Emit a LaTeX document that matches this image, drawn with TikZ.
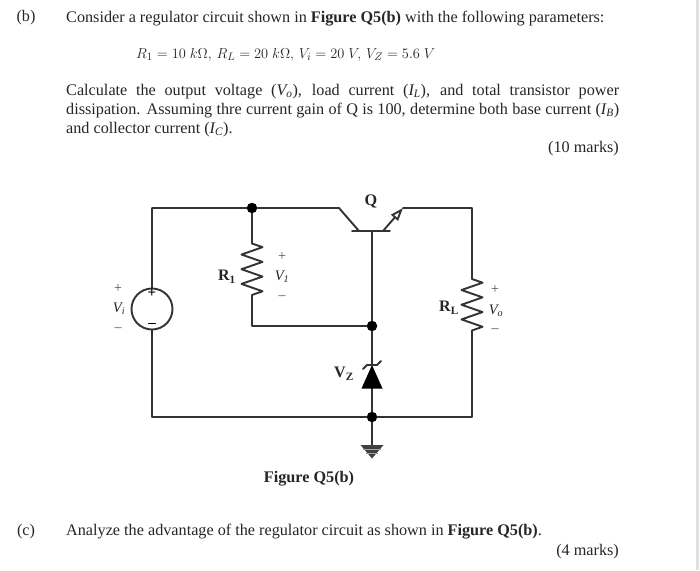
\documentclass[tikz,border=0pt]{standalone}
\usepackage{fontspec}
\setmainfont{Liberation Serif}
\usetikzlibrary{arrows.meta,decorations.pathmorphing}
\tikzset{
  wire/.style={line width=1.9pt, black!80, line cap=round, line join=round},
  res/.style={wire, decorate, decoration={zigzag, segment length=14.7pt, amplitude=10.5pt}},
  jn/.style={circle, fill=black, inner sep=0pt, minimum size=10.5pt},
  txt/.style={inner sep=0pt, text=black!85, font=\fontsize{16.2}{19}\selectfont},
  lab/.style={inner sep=0pt, text=black!85, font=\fontsize{14.5}{16}\selectfont},
  sign/.style={inner sep=0pt, text=black!70, font=\fontsize{14}{16}\selectfont}
}
\begin{document}
\begin{tikzpicture}[x=1pt, y=-1pt]
        \useasboundingbox (0,0) rectangle (700,570);
        \fill[white] (0,0) rectangle (700,570);
        \fill[black!12] (696,0) rectangle (699,570);
        % question text
        \node[txt, anchor=base] (partb) at (26,21) {(b)};
        \node[txt, anchor=base west] (intro) at (66,22) {Consider a regulator circuit shown in \textbf{Figure Q5(b)} with the following parameters:};
        \node[txt, anchor=base west, font=\fontsize{15.5}{19}\selectfont] (params) at (136,58) {$R_1 = 10\ k\Omega,\,R_L = 20\ k\Omega,\,V_i = 20\ V,\,V_Z = 5.6\ V$};
        \node[txt, anchor=base west, text width=553pt, align=justify] (para) at (66,95) {Calculate the output voltage (\textit{V\textsubscript{o}}), load current (\textit{I\textsubscript{L}}), and total transistor power\linebreak dissipation. Assuming thre current gain of Q is 100, determine both base current (\textit{I\textsubscript{B}})\linebreak and collector current (\textit{I\textsubscript{C}}).};
        \node[txt, anchor=base east] (marksb) at (619,152) {(10 marks)};
        \node[txt, anchor=base] (partc) at (26,535) {(c)};
        \node[txt, anchor=base west] (analyze) at (66,535) {Analyze the advantage of the regulator circuit as shown in \textbf{Figure Q5(b)}.};
        \node[txt, anchor=base east] (marksc) at (619,555) {(4 marks)};
        \node[txt, font=\fontsize{16.2}{19}\selectfont\bfseries] (caption) at (309,479) {Figure Q5(b)};
        % junctions and corners
        \node[jn] (top) at (252,208) {};
        \node[jn] (mid) at (372,326) {};
        \node[jn] (bot) at (372,417) {};
        \node[draw, wire, circle, inner sep=0pt, minimum size=41pt] (vi) at (152,309) {};
        \coordinate (tl) at (152,208);
        \coordinate (bl) at (152,417);
        \coordinate (br) at (472,417);
        \coordinate (tr) at (472,208);
        \coordinate (r1a) at (252,243.5);
        \coordinate (r1b) at (252,302);
        \coordinate (r1c) at (252,326);
        \coordinate (rla) at (472,279);
        \coordinate (rlb) at (472,337.5);
        \coordinate (col) at (339,208);
        \coordinate (colb) at (359,231);
        \coordinate (base) at (372,231);
        \coordinate (emb) at (383,231);
        \coordinate (em) at (403,208);
        \coordinate (zk) at (372,365);
        \coordinate (za) at (372,388);
        \coordinate (gnd) at (372,445);
        % wires
        \draw[wire] (vi.north) -- (tl) -- (top) -- (col) -- (colb);
        \draw[wire] (vi.south) -- (bl) -- (bot) -- (br) -- (rlb);
        \draw[wire] (top) -- (r1a);
        \draw[res] (r1a) -- (r1b);
        \draw[wire] (r1b) -- (r1c) -- (mid);
        \draw[wire] (em) -- (tr) -- (rla);
        \draw[res] (rla) -- (rlb);
        \draw[wire] (base) -- (mid) -- (zk);
        \draw[wire] (za) -- (bot) -- (gnd);
        % transistor
        \draw[wire] (352,231) -- (390,231);
        \draw[wire, -{Triangle[open, fill=white, length=13pt, width=9pt]}] (emb) -- (em);
        \node[txt, font=\fontsize{16.2}{19}\selectfont\bfseries] (qlab) at (371,201) {Q};
        % zener
        \fill[black] (zk) -- (382.5,388.5) -- (361.5,388.5) -- cycle;
        \draw[wire] (363,369) -- (367,365) -- (377,365) -- (381,361);
        % ground
        \fill[black!75] (360.5,445) -- (383.5,445) -- (372,458.5) -- cycle;
        \foreach \ypos/\half in {449.5/9, 453.5/6}
          \draw[line width=0.7pt, black!35] (372-\half,\ypos) -- (372+\half,\ypos);
        % source signs
        \node[inner sep=0pt, font=\bfseries\fontsize{15}{16}\selectfont] (vip) at (152,293) {+};
        \node[inner sep=0pt, font=\bfseries\fontsize{15}{16}\selectfont] (vim) at (152,325) {–};
        % labels
        \node[sign] (vipl) at (118,289) {+};
        \node[lab] (vil) at (119,309) {\textit{V\textsubscript{i}}};
        \node[sign] (viml) at (118,330) {–};
        \node[lab, font=\fontsize{16}{18}\selectfont\bfseries] (r1l) at (227,277) {R\textsubscript{1}};
        \node[sign] (v1p) at (282,257) {+};
        \node[lab] (v1l) at (282,277) {\textit{V\textsubscript{1}}};
        \node[sign] (v1m) at (282,298) {–};
        \node[lab, font=\fontsize{16}{18}\selectfont\bfseries] (rll) at (449,308) {R\textsubscript{L}};
        \node[sign] (vop) at (495,290) {+};
        \node[lab] (vol) at (496,311) {\textit{V\textsubscript{o}}};
        \node[sign] (vom) at (495,331) {–};
        \node[lab, font=\fontsize{16}{18}\selectfont\bfseries] (vzl) at (344,374) {V\textsubscript{Z}};
      \end{tikzpicture}
\end{document}
